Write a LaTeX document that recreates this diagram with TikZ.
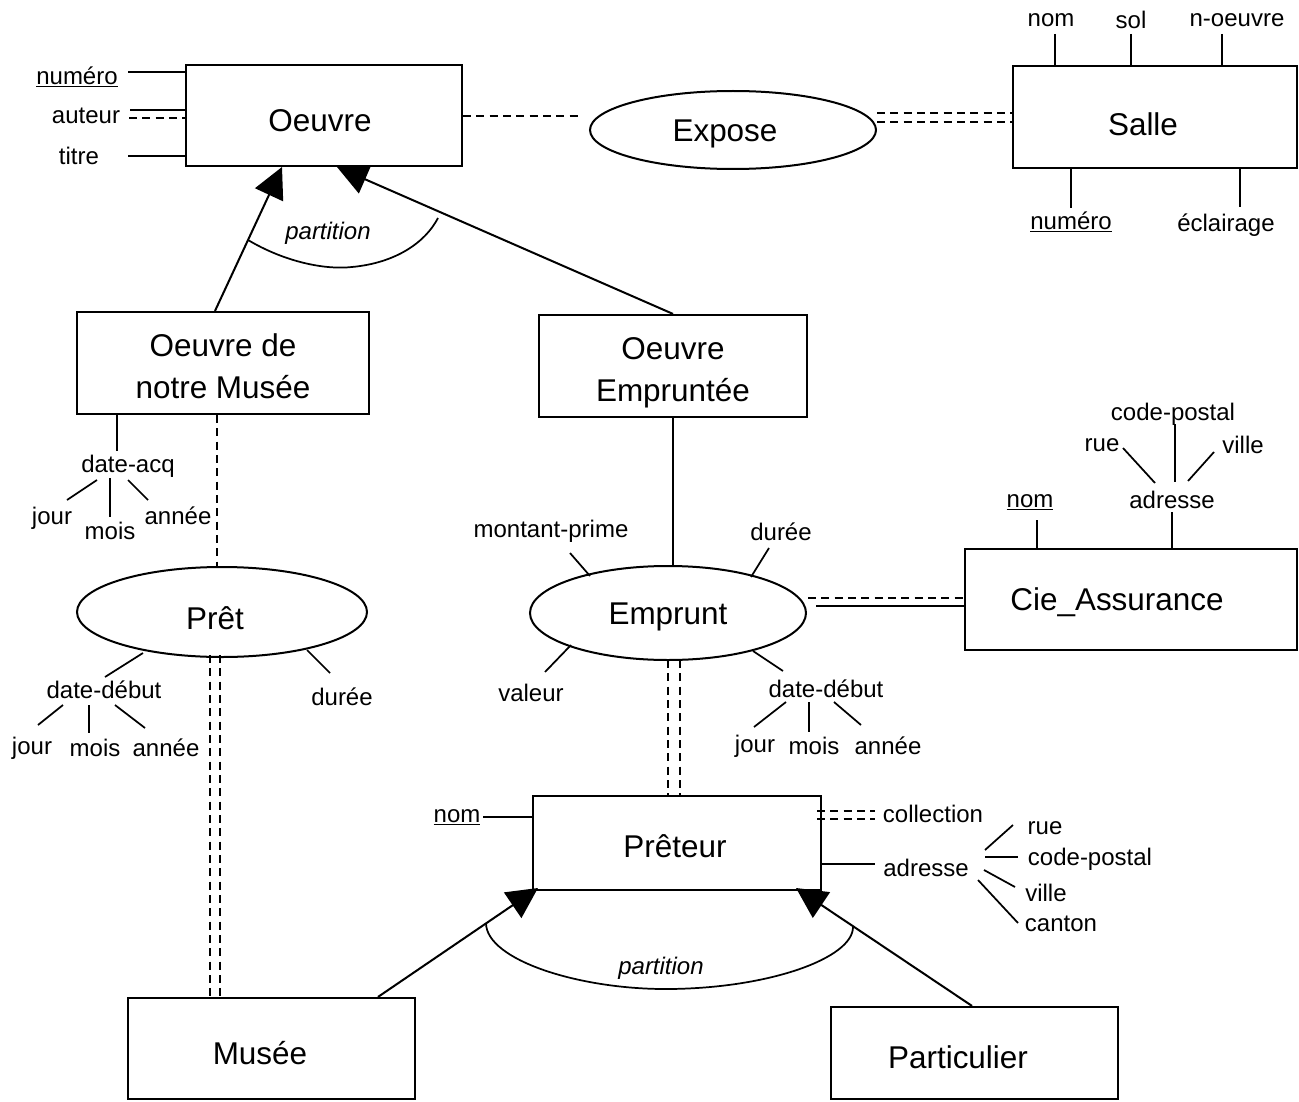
\documentclass[tikz,border=0pt]{standalone}
\usepackage{fontspec}
\setmainfont{Liberation Sans}
\usetikzlibrary{arrows.meta,shapes.geometric,calc}
\newcommand\bigf{\fontsize{23.6}{31.5}\selectfont}
\newcommand\smf{\fontsize{18}{21}\selectfont}
\begin{document}
\begin{tikzpicture}[x=0.75pt,y=-0.75pt,
  entity/.style={draw, rectangle, line width=1.6pt, inner sep=0pt},
  rel/.style={draw, ellipse, line width=1.5pt, inner sep=0pt},
  etext/.style={inner sep=0pt, font=\bigf, align=center},
  attr/.style={inner sep=1pt, font=\smf},
  ln/.style={line width=1.3pt},
  dsh/.style={line width=1.3pt, dash pattern=on 6pt off 4pt},
  isa/.style={line width=1.5pt, -{Triangle[length=23pt,width=23pt]}},
  part/.style={line width=1.3pt}]
\useasboundingbox (0,0) rectangle (1299,1102);
% entities
\node[entity, minimum width=276*0.75pt, minimum height=101*0.75pt] (oeuvre) at (324,115.5) {};
\node[entity, minimum width=284*0.75pt, minimum height=102*0.75pt] (salle) at (1155,117) {};
\node[entity, minimum width=292*0.75pt, minimum height=102*0.75pt] (onm) at (223,363) {};
\node[entity, minimum width=268*0.75pt, minimum height=102*0.75pt] (oemp) at (673,366) {};
\node[entity, minimum width=332*0.75pt, minimum height=101*0.75pt] (cie) at (1131,599.5) {};
\node[entity, minimum width=288*0.75pt, minimum height=94*0.75pt] (preteur) at (677,843) {};
\node[entity, minimum width=287*0.75pt, minimum height=101*0.75pt] (musee) at (271.5,1048.5) {};
\node[entity, minimum width=287*0.75pt, minimum height=92*0.75pt] (partic) at (974.5,1053) {};
% relationships
\node[rel, minimum width=286*0.75pt, minimum height=78*0.75pt] (expose) at (733,130) {};
\node[rel, minimum width=290*0.75pt, minimum height=90*0.75pt] (pret) at (222,612) {};
\node[rel, minimum width=276*0.75pt, minimum height=94*0.75pt] (emprunt) at (668,613) {};
% names
\node[etext] (toeuvre) at (320,121) {Oeuvre};
\node[etext] (tsalle) at (1143,124) {Salle};
\node[etext] (tonm) at (223,366) {Oeuvre de\\notre Musée};
\node[etext] (toemp) at (673,373) {Oeuvre\\Empruntée};
\node[etext] (tcie) at (1117,602) {Cie\_Assurance};
\node[etext] (tpreteur) at (675,846) {Prêteur};
\node[etext] (tmusee) at (260,1053) {Musée};
\node[etext] (tpartic) at (958,1057) {Particulier};
\node[etext] (texpose) at (725,134) {Expose};
\node[etext] (tpret) at (215,618) {Prêt};
\node[etext] (temprunt) at (668,617) {Emprunt};

% Oeuvre attributes
\node[attr] (onum) at (77,77) {\underline{numéro}};
\node[attr] (oaut) at (86,116) {auteur};
\node[attr] (otit) at (79,156) {titre};
\draw[ln] (128,72) -- (oeuvre.west |- 0,72);
\draw[ln] (130,110) -- (oeuvre.west |- 0,110);
\draw[dsh] (129,118) -- (oeuvre.west |- 0,118);
\draw[ln] (128,156) -- (oeuvre.west |- 0,156);

% Oeuvre - Expose - Salle
\draw[dsh] (oeuvre.east |- 0,116) -- (580,116);
\draw[dsh] (877,113) -- (salle.west |- 0,113);
\draw[dsh] (877,122) -- (salle.west |- 0,122);

% Salle attributes
\node[attr] (snom) at (1051,20) {nom};
\node[attr] (ssol) at (1131,20) {sol};
\node[attr] (snoe) at (1237,20) {n-oeuvre};
\node[attr] (snum) at (1071,222) {\underline{numéro}};
\node[attr] (secl) at (1226,225) {éclairage};
\draw[ln] (1055,34) -- (1055,0 |- salle.north);
\draw[ln] (1131,34) -- (1131,0 |- salle.north);
\draw[ln] (1222,34) -- (1222,0 |- salle.north);
\draw[ln] (1071,0 |- salle.south) -- (1071,208);
\draw[ln] (1240,0 |- salle.south) -- (1240,207);

% generalisation Oeuvre
\draw[isa] (215,0 |- onm.north) -- (282,167);
\draw[isa] (673,0 |- oemp.north) -- (337,167);
\draw[part] (248,240) .. controls (285,262) and (325,270) .. (352,267) .. controls (395,263) and (425,243) .. (438,218);
\node[attr, font=\smf\itshape] (part1) at (328,233) {partition};

% Oeuvre de notre Musee attributes
\node[attr] (dacq) at (128,466) {date-acq};
\node[attr] (j1) at (52,518) {jour};
\node[attr] (m1) at (110,531) {mois};
\node[attr] (a1) at (178,516) {année};
\draw[ln] (117,0 |- onm.south) -- (117,451);
\draw[ln] (97,480) -- (67,500);
\draw[ln] (110,478) -- (110,517);
\draw[ln] (128,480) -- (148,500);
\draw[dsh] (217,0 |- onm.south) -- (217,567);

% Pret attributes
\node[attr] (dd1) at (104,690) {date-début};
\node[attr] (j2) at (32,748) {jour};
\node[attr] (m2) at (95,748) {mois};
\node[attr] (a2) at (166,748) {année};
\node[attr] (du1) at (342,697) {durée};
\draw[ln] (143,653) -- (105,677);
\draw[ln] (63,705) -- (38,725);
\draw[ln] (89,705) -- (89,733);
\draw[ln] (115,705) -- (145,728);
\draw[ln] (307,650) -- (330,673);
\draw[dsh] (210,655) -- (210,0 |- musee.north);
\draw[dsh] (220,655) -- (220,0 |- musee.north);

% Emprunt
\draw[ln] (oemp.south) -- (673,566);
\node[attr] (mp) at (551,531) {montant-prime};
\node[attr] (du2) at (781,532) {durée};
\node[attr] (val) at (531,693) {valeur};
\node[attr] (dd2) at (826,689) {date-début};
\node[attr] (j3) at (755,746) {jour};
\node[attr] (m3) at (814,746) {mois};
\node[attr] (a3) at (888,746) {année};
\draw[ln] (570,553) -- (590,576);
\draw[ln] (769,548) -- (751,577);
\draw[ln] (545,672) -- (571,645);
\draw[ln] (753,651) -- (783,671);
\draw[ln] (786,702) -- (754,727);
\draw[ln] (809,702) -- (809,732);
\draw[ln] (834,702) -- (861,725);
\draw[dsh] (808,598) -- (cie.west |- 0,598);
\draw[ln] (816,606) -- (cie.west |- 0,606);
\draw[dsh] (668,660) -- (668,0 |- preteur.north);
\draw[dsh] (680,660) -- (680,0 |- preteur.north);

% Cie_Assurance attributes
\node[attr] (cnom) at (1030,502) {\underline{nom}};
\node[attr] (cadr) at (1172,500) {adresse};
\node[attr] (ccp) at (1173,414) {code-postal};
\node[attr] (crue) at (1102,445) {rue};
\node[attr] (cvil) at (1243,445) {ville};
\draw[ln] (1037,520) -- (1037,0 |- cie.north);
\draw[ln] (1172,512) -- (1172,0 |- cie.north);
\draw[ln] (1123,448) -- (1155,483);
\draw[ln] (1175,424) -- (1175,482);
\draw[ln] (1214,452) -- (1188,481);

% Preteur attributes
\node[attr] (pnom) at (457,817) {\underline{nom}};
\node[attr] (pcol) at (933,814) {collection};
\node[attr] (padr) at (926,868) {adresse};
\node[attr] (prue) at (1045,828) {rue};
\node[attr] (pcp) at (1090,859) {code-postal};
\node[attr] (pvil) at (1046,893) {ville};
\node[attr] (pcan) at (1061,924) {canton};
\draw[ln] (483,817) -- (preteur.west |- 0,817);
\draw[dsh] (817,811) -- (875,811);
\draw[dsh] (817,819) -- (875,819);
\draw[ln] (preteur.east |- 0,864) -- (875,864);
\draw[ln] (985,850) -- (1013,825);
\draw[ln] (985,857) -- (1018,857);
\draw[ln] (984,870) -- (1015,887);
\draw[ln] (978,880) -- (1018,923);

% generalisation Preteur
\draw[isa] (378,0 |- musee.north) -- (538,888);
\draw[isa] (972,0 |- partic.north) -- (796,888);
\draw[part] (486,923) .. controls (486,960) and (580,990) .. (670,989) .. controls (770,988) and (853,958) .. (853,927);
\node[attr, font=\smf\itshape] (part2) at (661,968) {partition};
\end{tikzpicture}
\end{document}
